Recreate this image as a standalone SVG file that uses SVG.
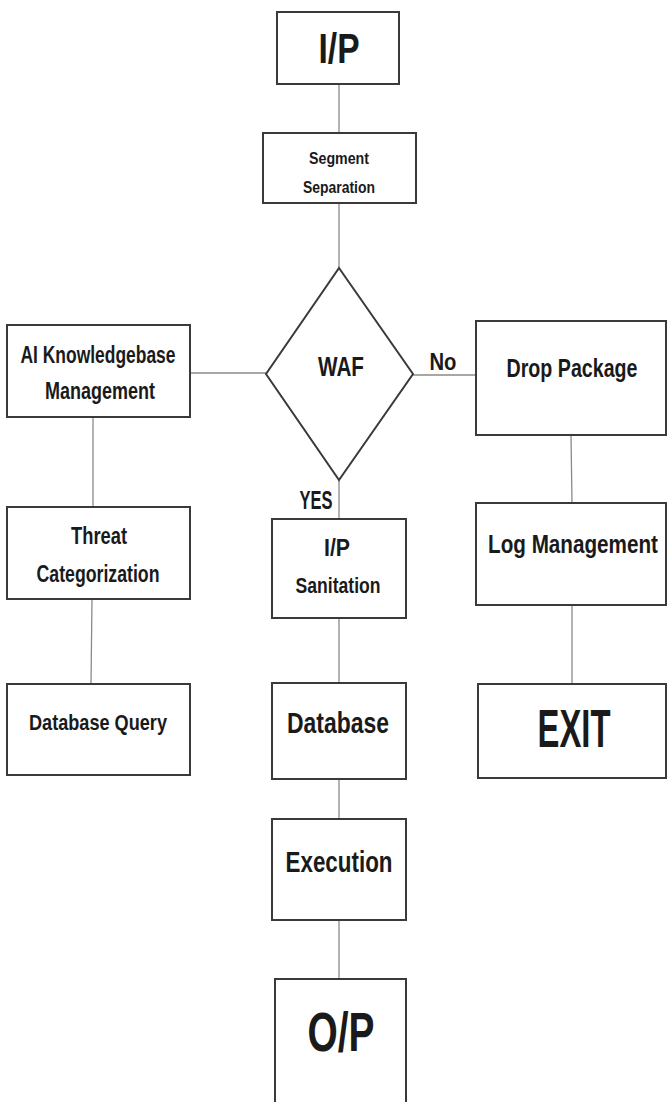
<svg xmlns="http://www.w3.org/2000/svg" width="667" height="1102" viewBox="0 0 667 1102">
<style>
.box{fill:#fff;stroke:#3a3a3a;stroke-width:2}
.conn line{stroke:#8a8a8a;stroke-width:1.3}
text{font-family:"Liberation Sans",Arial,sans-serif;font-weight:bold;fill:#1a1a1a;text-anchor:middle}
</style>
<rect width="667" height="1102" fill="#fff"/>
<g id="connectors" class="conn">
<line x1="339" y1="84" x2="339" y2="133"/>
<line x1="339" y1="203" x2="339" y2="268"/>
<line x1="190" y1="373" x2="266" y2="373"/>
<line x1="413" y1="375" x2="476" y2="375"/>
<line x1="339" y1="480" x2="339" y2="519"/>
<line x1="93" y1="417" x2="93" y2="507"/>
<line x1="92" y1="599" x2="91" y2="684"/>
<line x1="571" y1="435" x2="572" y2="503"/>
<line x1="572" y1="605" x2="572" y2="684"/>
<line x1="339" y1="618" x2="339" y2="683"/>
<line x1="339" y1="779" x2="339" y2="819"/>
<line x1="339" y1="920" x2="339" y2="979"/>
</g>
<g id="ip">
<rect class="box" x="277" y="12" width="122" height="72"/>
<text x="339" y="63" font-size="43" textLength="41" lengthAdjust="spacingAndGlyphs">I/P</text>
</g>
<g id="segment">
<rect class="box" x="263" y="133" width="153" height="70"/>
<text x="339" y="164" font-size="16" textLength="60" lengthAdjust="spacingAndGlyphs">Segment</text>
<text x="339" y="193" font-size="16" textLength="72" lengthAdjust="spacingAndGlyphs">Separation</text>
</g>
<g id="waf">
<polygon class="box" points="339,268 413,374 339,480 266,374"/>
<text x="341" y="376" font-size="28" textLength="46" lengthAdjust="spacingAndGlyphs">WAF</text>
</g>
<g id="labels">
<text x="443" y="370" font-size="24" textLength="27" lengthAdjust="spacingAndGlyphs">No</text>
<text x="316" y="509" font-size="26" textLength="33" lengthAdjust="spacingAndGlyphs">YES</text>
</g>
<g id="ai">
<rect class="box" x="7" y="325" width="183" height="92"/>
<text x="98" y="363" font-size="23" textLength="155" lengthAdjust="spacingAndGlyphs">AI Knowledgebase</text>
<text x="100" y="399" font-size="23" textLength="110" lengthAdjust="spacingAndGlyphs">Management</text>
</g>
<g id="drop">
<rect class="box" x="476" y="321" width="190" height="114"/>
<text x="572" y="377" font-size="25" textLength="131" lengthAdjust="spacingAndGlyphs">Drop Package</text>
</g>
<g id="threat">
<rect class="box" x="7" y="507" width="183" height="92"/>
<text x="99" y="544" font-size="24" textLength="56" lengthAdjust="spacingAndGlyphs">Threat</text>
<text x="98" y="582" font-size="23" textLength="123" lengthAdjust="spacingAndGlyphs">Categorization</text>
</g>
<g id="sanitation">
<rect class="box" x="272" y="519" width="134" height="99"/>
<text x="337" y="556" font-size="23" textLength="26" lengthAdjust="spacingAndGlyphs">I/P</text>
<text x="338" y="593" font-size="22" textLength="85" lengthAdjust="spacingAndGlyphs">Sanitation</text>
</g>
<g id="log">
<rect class="box" x="476" y="503" width="190" height="102"/>
<text x="573" y="553" font-size="26" textLength="170" lengthAdjust="spacingAndGlyphs">Log Management</text>
</g>
<g id="dbquery">
<rect class="box" x="7" y="684" width="183" height="91"/>
<text x="98" y="730" font-size="22" textLength="138" lengthAdjust="spacingAndGlyphs">Database Query</text>
</g>
<g id="database">
<rect class="box" x="272" y="683" width="134" height="96"/>
<text x="338" y="733" font-size="30" textLength="102" lengthAdjust="spacingAndGlyphs">Database</text>
</g>
<g id="exit">
<rect class="box" x="478" y="684" width="188" height="94"/>
<text x="574" y="747" font-size="53" textLength="73" lengthAdjust="spacingAndGlyphs">EXIT</text>
</g>
<g id="execution">
<rect class="box" x="272" y="819" width="134" height="101"/>
<text x="339" y="872" font-size="30" textLength="107" lengthAdjust="spacingAndGlyphs">Execution</text>
</g>
<g id="op">
<rect class="box" x="275" y="979" width="131" height="140"/>
<text x="341" y="1051" font-size="55" textLength="67" lengthAdjust="spacingAndGlyphs">O/P</text>
</g>
</svg>
